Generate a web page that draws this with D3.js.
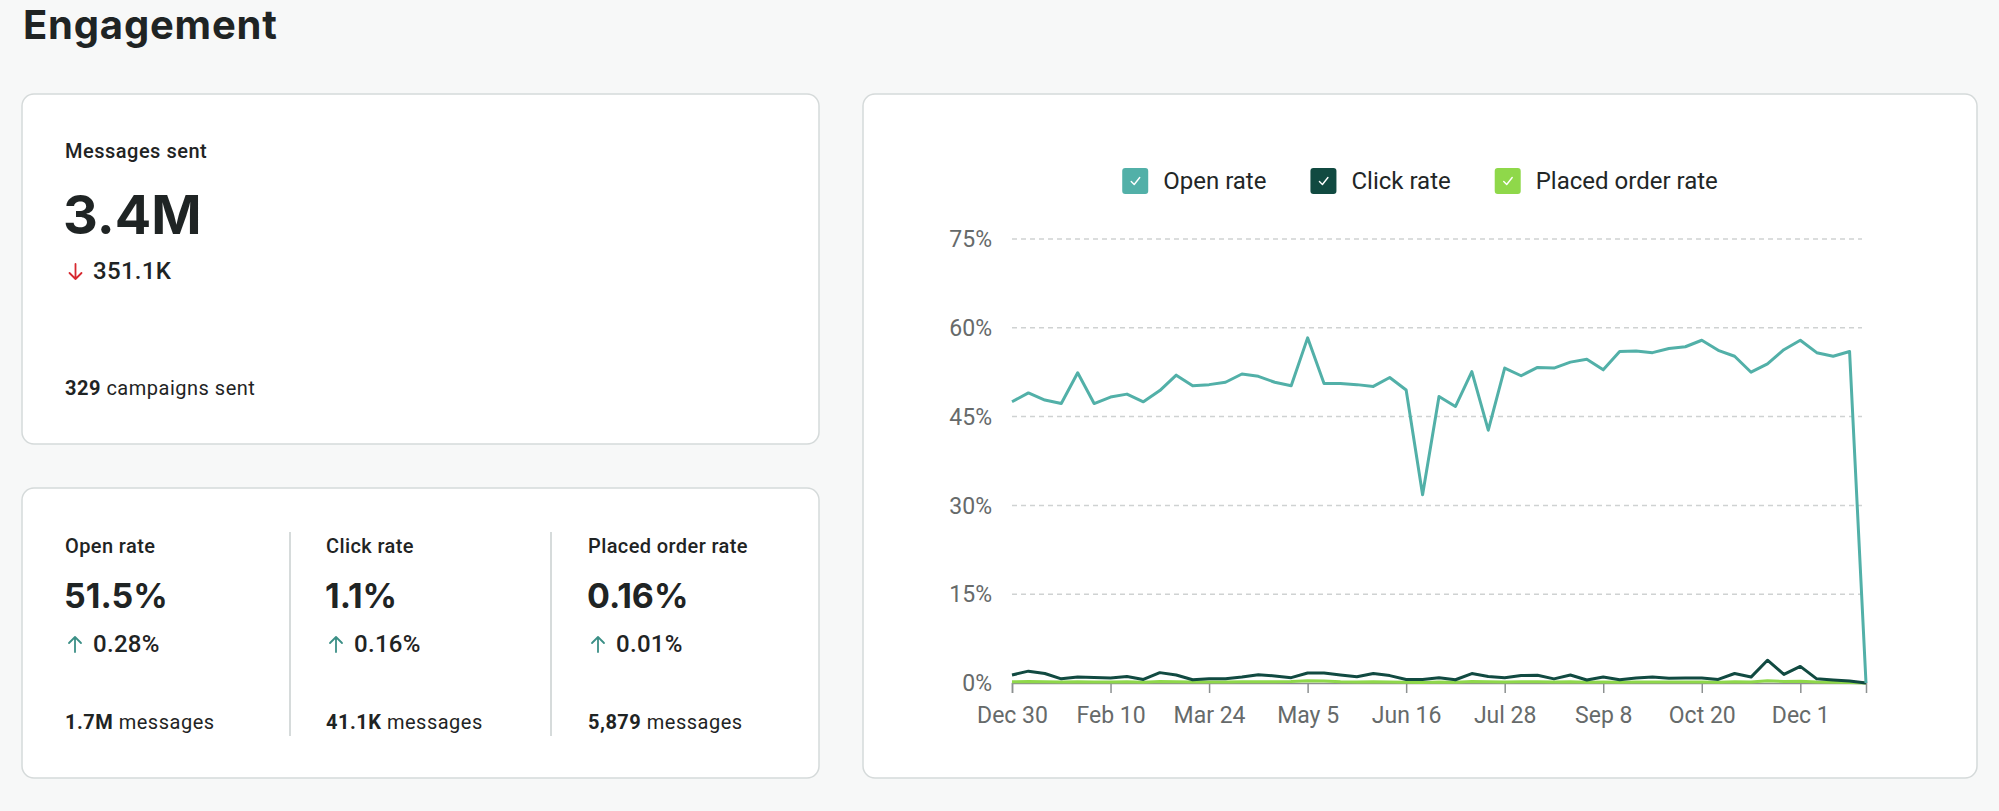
<!DOCTYPE html>
<html>
<head>
<meta charset="utf-8">
<script src="https://cdnjs.cloudflare.com/ajax/libs/d3/7.8.5/d3.min.js"></script>
<style>
  body { margin: 0; background: #f7f8f8; }
  svg { display: block; }
</style>
</head>
<body>
<div id="canvas"></div>
<script>
// weekly data, first week starts Dec 30
var firstWeek = new Date(2018, 11, 30);
var openRate = [47.5, 49.0, 47.8, 47.2, 52.4, 47.2, 48.3, 48.8, 47.5, 49.4,
  52.0, 50.2, 50.4, 50.8, 52.2, 51.8, 50.8, 50.2, 58.3, 50.6,
  50.6, 50.4, 50.1, 51.6, 49.5, 31.8, 48.4, 46.7, 52.6, 42.7,
  53.2, 51.9, 53.3, 53.2, 54.2, 54.7, 52.9, 56.0, 56.1, 55.8,
  56.5, 56.8, 57.9, 56.2, 55.2, 52.5, 53.9, 56.3, 57.9, 55.8,
  55.2, 56.0, 0];
var clickRate = [1.35, 2.0, 1.6, 0.7, 1.0, 0.95, 0.85, 1.1, 0.6, 1.75,
  1.35, 0.55, 0.7, 0.7, 1.0, 1.4, 1.2, 0.9, 1.7, 1.7,
  1.35, 1.05, 1.6, 1.25, 0.6, 0.6, 0.9, 0.55, 1.6, 1.1,
  0.9, 1.25, 1.3, 0.7, 1.35, 0.5, 1.0, 0.55, 0.85, 1.0,
  0.8, 0.85, 0.85, 0.6, 1.6, 1.0, 3.85, 1.45, 2.8, 0.7,
  0.5, 0.35, 0];
var orderRate = [0.2, 0.25, 0.2, 0.15, 0.2, 0.18, 0.15, 0.2, 0.12, 0.25,
  0.2, 0.15, 0.15, 0.18, 0.2, 0.22, 0.2, 0.25, 0.4, 0.35,
  0.2, 0.15, 0.2, 0.18, 0.12, 0.1, 0.15, 0.12, 0.25, 0.2,
  0.18, 0.2, 0.22, 0.15, 0.2, 0.12, 0.15, 0.12, 0.15, 0.18,
  0.15, 0.15, 0.18, 0.12, 0.2, 0.18, 0.4, 0.25, 0.3, 0.15,
  0.12, 0.1, 0];
var yTicks = [0, 15, 30, 45, 60, 75];
var seriesNames = ["Open rate", "Click rate", "Placed order rate"];
var seriesColors = ["#52b0a8", "#114a41", "#8fd84a"];

var rateLabels = ["Open rate", "Click rate", "Placed order rate"];
var rateValues = ["51.5%", "1.1%", "0.16%"];
var rateChanges = ["0.28%", "0.16%", "0.01%"];
var rateCounts = ["1.7M", "41.1K", "5,879"];

var weeks = openRate.map(function (d, i) { return d3.timeWeek.offset(firstWeek, i); });

var W = 1999, H = 811;
var ink = "#1f2424";
var headFont = "Inter, 'Noto Sans', sans-serif";
var bodyFont = "Roboto, 'Noto Sans', sans-serif";

var svg = d3.select('#canvas').append('svg')
  .attr('width', W)
  .attr('height', H);

svg.append('rect').attr('width', W).attr('height', H).attr('fill', '#f7f8f8');

svg.append('text')
  .attr('x', 23).attr('y', 39)
  .attr('font-family', headFont).attr('font-weight', 700)
  .attr('font-size', 40).attr('letter-spacing', 0.8).attr('fill', ink)
  .text('Engagement');

var card = function (x, y, w, h) {
  svg.append('rect')
    .attr('x', x).attr('y', y).attr('width', w).attr('height', h)
    .attr('rx', 12).attr('fill', '#fff')
    .attr('stroke', '#d5dada').attr('stroke-width', 1.5);
};

var arrow = function (x, y, up, color) {
  // y = top of arrow, 15px tall
  var p = up
    ? 'M' + x + ',' + (y + 15) + 'V' + y + 'M' + (x - 6) + ',' + (y + 6) + 'L' + x + ',' + y + 'L' + (x + 6) + ',' + (y + 6)
    : 'M' + x + ',' + y + 'V' + (y + 15) + 'M' + (x - 6) + ',' + (y + 9) + 'L' + x + ',' + (y + 15) + 'L' + (x + 6) + ',' + (y + 9);
  svg.append('path').attr('d', p).attr('fill', 'none')
    .attr('stroke', color).attr('stroke-width', 1.8).attr('stroke-linecap', 'round')
    .attr('stroke-linejoin', 'round');
};

// card 1: messages sent
card(22, 94, 797, 350);
svg.append('text').attr('x', 65).attr('y', 158)
  .attr('font-family', bodyFont).attr('font-weight', 500).attr('font-size', 20)
  .attr('letter-spacing', 0.5).attr('fill', ink).text('Messages sent');
svg.append('text').attr('x', 63).attr('y', 234)
  .attr('font-family', headFont).attr('font-weight', 700).attr('font-size', 54)
  .attr('fill', ink).text('3.4M');
arrow(75.5, 264, false, '#d7282f');
svg.append('text').attr('x', 93).attr('y', 279)
  .attr('font-family', bodyFont).attr('font-weight', 500).attr('font-size', 24)
  .attr('letter-spacing', 0.3).attr('fill', ink).text('351.1K');
var camp = svg.append('text').attr('x', 65).attr('y', 395)
  .attr('font-family', bodyFont).attr('font-size', 20).attr('letter-spacing', 0.5)
  .attr('fill', ink);
camp.append('tspan').attr('font-weight', 700).text('329');
camp.append('tspan').text(' campaigns sent');

// card 2: rates
card(22, 488, 797, 290);
var colX = [65, 326, 588];
[290, 551].forEach(function (x) {
  svg.append('line').attr('x1', x).attr('x2', x).attr('y1', 532).attr('y2', 736)
    .attr('stroke', '#c9cfcf').attr('stroke-width', 1.5);
});
rateLabels.forEach(function (lab, i) {
  var x = colX[i];
  svg.append('text').attr('x', x).attr('y', 553)
    .attr('font-family', bodyFont).attr('font-weight', 500).attr('font-size', 20)
    .attr('letter-spacing', 0.4).attr('fill', ink).text(lab);
  svg.append('text').attr('x', x - 1).attr('y', 608)
    .attr('font-family', headFont).attr('font-weight', 700).attr('font-size', 34)
    .attr('fill', ink).text(rateValues[i]);
  arrow(x + 10, 637, true, '#3b8f86');
  svg.append('text').attr('x', x + 28).attr('y', 652)
    .attr('font-family', bodyFont).attr('font-weight', 500).attr('font-size', 24)
    .attr('letter-spacing', 0.3).attr('fill', ink).text(rateChanges[i]);
  var t = svg.append('text').attr('x', x).attr('y', 729)
    .attr('font-family', bodyFont).attr('font-size', 20).attr('letter-spacing', 0.5)
    .attr('fill', ink);
  t.append('tspan').attr('font-weight', 700).text(rateCounts[i]);
  t.append('tspan').text(' messages');
});

// card 3: chart
card(863, 94, 1114, 684);

var x = d3.scaleTime()
  .domain([weeks[0], weeks[weeks.length - 1]])
  .range([1012, 1866]);
var y = d3.scaleLinear()
  .domain([0, 75])
  .range([683, 239]);

// grid
svg.append('g').selectAll('line').data(yTicks.filter(function (d) { return d > 0; }))
  .enter().append('line')
  .attr('x1', 1012).attr('x2', 1862)
  .attr('y1', function (d) { return y(d); })
  .attr('y2', function (d) { return y(d); })
  .attr('stroke', '#cfd2d2').attr('stroke-width', 1.5)
  .attr('stroke-dasharray', '5,4');

// y labels
svg.append('g').selectAll('text').data(yTicks)
  .enter().append('text')
  .attr('x', 992)
  .attr('y', function (d) { return y(d); })
  .attr('dy', '0.36em')
  .attr('text-anchor', 'end')
  .attr('font-family', bodyFont).attr('font-size', 23).attr('fill', '#666a6a')
  .text(function (d) { return d + '%'; });

// x axis
var xAxis = d3.axisBottom(x)
  .tickValues(weeks.filter(function (d, i) { return i % 6 === 0 && i <= 48; }))
  .tickFormat(d3.timeFormat('%b %-d'))
  .tickSize(10)
  .tickPadding(14);
var gx = svg.append('g').attr('transform', 'translate(0,' + y(0) + ')').call(xAxis);
gx.select('.domain').attr('stroke', '#8c9090').attr('stroke-width', 1.5);
gx.selectAll('.tick line').attr('stroke', '#8c9090').attr('stroke-width', 1.5);
gx.selectAll('.tick text')
  .attr('font-family', bodyFont).attr('font-size', 23).attr('fill', '#666a6a');

// lines
var series = [openRate, clickRate, orderRate];
var line = d3.line()
  .x(function (d, i) { return x(weeks[i]); })
  .y(function (d) { return y(d); });
[2, 1, 0].forEach(function (k) {
  svg.append('path')
    .datum(series[k])
    .attr('d', line)
    .attr('fill', 'none')
    .attr('stroke', seriesColors[k])
    .attr('stroke-width', 3)
    .attr('stroke-linejoin', 'round');
});

// legend
var legend = svg.append('g');
var lx = 0;
seriesNames.forEach(function (name, i) {
  var item = legend.append('g').attr('transform', 'translate(' + lx + ',0)');
  item.append('rect').attr('x', 0).attr('y', 168).attr('width', 26).attr('height', 26)
    .attr('rx', 3).attr('fill', seriesColors[i]);
  item.append('path').attr('d', 'M9,181.5L12,184.5L17.5,177.5')
    .attr('fill', 'none').attr('stroke', '#fff').attr('stroke-width', 1.4)
    .attr('stroke-linecap', 'round').attr('stroke-linejoin', 'round');
  var t = item.append('text').attr('x', 41).attr('y', 189)
    .attr('font-family', bodyFont).attr('font-size', 24).attr('fill', '#222626')
    .text(name);
  lx += 41 + t.node().getComputedTextLength() + 44;
});
var legendW = lx - 44;
legend.attr('transform', 'translate(' + (1420 - legendW / 2) + ',0)');
</script>
</body>
</html>
